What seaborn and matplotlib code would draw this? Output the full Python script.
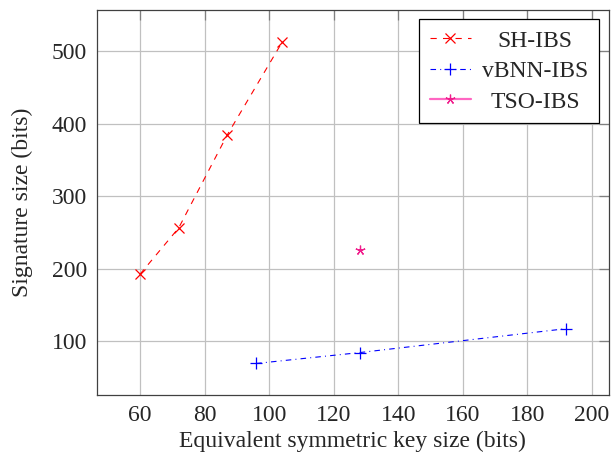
import matplotlib
matplotlib.use("Agg")
import matplotlib.pyplot as plt
from matplotlib.lines import Line2D
import seaborn as sns
import pandas as pd

# ---- data ----
sh_x = [60, 72, 87, 104]
sh_y = [192, 256, 384, 512]
vb_x = [96, 128, 192]
vb_y = [69, 84, 117]
tso_x = [128]
tso_y = [225]
series_names = ["SH-IBS", "vBNN-IBS", "TSO-IBS"]
x_ticks = [60, 80, 100, 120, 140, 160, 180, 200]
y_ticks = [100, 200, 300, 400, 500]
x_label = "Equivalent symmetric key size (bits)"
y_label = "Signature size (bits)"

sns.set_style("white")
plt.rcParams["font.family"] = ["Liberation Serif", "DejaVu Serif"]
plt.rcParams["lines.scale_dashes"] = False

FS = 17
red = "#ff0000"
blue = "#0000ff"
mag = "#f01e8c"
mag_line = "#ff66c2"
dash_sh = (0, (4.5, 4.5))
dash_vb = (0, (4.0, 3.0, 0.7, 3.0))

fig = plt.figure(figsize=(6.12, 4.57), dpi=100)
ax = fig.add_axes([97 / 612, 1 - 395 / 457, (608.5 - 97) / 612, (395 - 10) / 457])

df_sh = pd.DataFrame({"x": sh_x, "y": sh_y})
df_vb = pd.DataFrame({"x": vb_x, "y": vb_y})
df_tso = pd.DataFrame({"x": tso_x, "y": tso_y})

sns.lineplot(data=df_sh, x="x", y="y", ax=ax, color=red, lw=0.8, linestyle=dash_sh,
             marker="x", markersize=6.5, markeredgewidth=0.9, markeredgecolor=red,
             sort=False, legend=False)
sns.lineplot(data=df_vb, x="x", y="y", ax=ax, color=blue, lw=0.8, linestyle=dash_vb,
             marker="+", markersize=8.5, markeredgewidth=0.9, markeredgecolor=blue,
             sort=False, legend=False)
sns.lineplot(data=df_tso, x="x", y="y", ax=ax, color=mag, lw=0.8,
             marker=(5, 2, 0), markersize=7, markeredgewidth=0.9, markeredgecolor=mag,
             sort=False, legend=False)

ax.set_xlim(46.7, 205.1)
ax.set_ylim(25.5, 556.6)
ax.set_xticks(x_ticks)
ax.set_yticks(y_ticks)
ax.grid(True, color="#c0c0c0", lw=0.9)
ax.set_axisbelow(True)
for s in ax.spines.values():
    s.set_color("#404040")
    s.set_linewidth(0.9)
ax.tick_params(direction="in", length=7, width=0.9, color="#808080",
               top=True, right=True, labelsize=FS, pad=7)
ax.set_xlabel(x_label, fontsize=FS)
ax.set_ylabel(y_label, fontsize=FS)
# place axis labels like the reference (centres at y=441 px and x=22 px)
ax.xaxis.set_label_coords(0.5, -(441 - 395) / 385, transform=ax.transAxes)
ax.xaxis.label.set_va("center")
ax.yaxis.set_label_coords(-(97 - 22) / 511.5, 0.5, transform=ax.transAxes)
ax.yaxis.label.set_va("center")

handles = [
    Line2D([0], [0], color=red, lw=0.8, linestyle=dash_sh, marker="x", markersize=6.5,
           markeredgewidth=0.9),
    Line2D([0], [0], color=blue, lw=0.8, linestyle=dash_vb, marker="+", markersize=8.5,
           markeredgewidth=0.9),
    Line2D([0], [0], color=mag_line, lw=1.6, marker=(5, 2, 0), markersize=7,
           markeredgewidth=0.9, markeredgecolor=mag),
]
leg = ax.legend(handles, series_names, loc="upper right", fontsize=FS, frameon=True,
                fancybox=False, edgecolor="black", framealpha=1, handlelength=1.75,
                handletextpad=0.47, labelspacing=0.38, borderpad=0.45,
                borderaxespad=0.4, numpoints=1)
leg.get_frame().set_linewidth(0.9)

# centre legend labels like the reference
fig.canvas.draw()
r = fig.canvas.get_renderer()
ws = [t.get_window_extent(r).width for t in leg.get_texts()]
mw = max(ws)
for t, w in zip(leg.get_texts(), ws):
    t.set_x((mw - w) / 2)

fig.savefig("out.png", dpi=100)
